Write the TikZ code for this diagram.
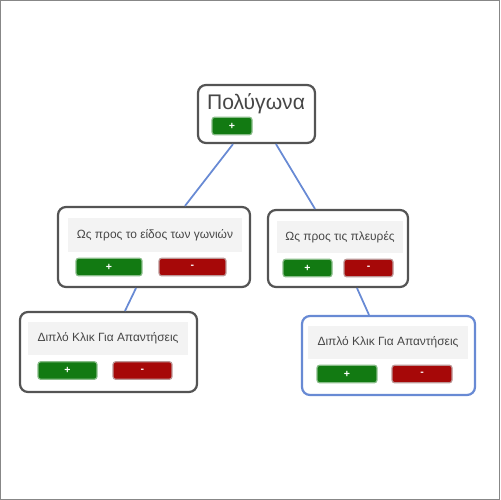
\documentclass[tikz,border=0pt]{standalone}
\usepackage{fontspec}
\setmainfont{Liberation Sans}
\definecolor{boxline}{RGB}{84,84,84}
\definecolor{linkblue}{RGB}{104,138,212}
\definecolor{panelbg}{RGB}{243,243,243}
\definecolor{labeltext}{RGB}{70,70,70}
\definecolor{okgreen}{RGB}{18,122,18}
\definecolor{nored}{RGB}{166,8,8}
\usetikzlibrary{calc}

\begin{document}
\begin{tikzpicture}[x=0.02cm,y=-0.02cm,
    card/.style={draw=boxline,line width=1.25pt,rounded corners=4.5pt,fill=white,inner sep=0pt},
    panel/.style={fill=panelbg,text=labeltext,inner sep=0pt,font=\fontsize{6.8}{8}\selectfont},
    btn/.style={line width=0.7pt,rounded corners=1.5pt,inner sep=0pt,minimum height=0.35cm,
      text=white,font=\fontsize{6}{6}\selectfont\bfseries},
    addbtn/.style={btn,fill=okgreen,draw=okgreen!50!white},
    delbtn/.style={btn,fill=nored,draw=nored!40!gray!60!white},
    link/.style={linkblue,line width=1pt}]
        \useasboundingbox (0,0) rectangle (500,500);
        \draw[boxline!70,line width=0.6pt] (0.5,0.5) rectangle (499.5,499.5);
        % top of the tree
        \node[card,minimum width=2.34cm,minimum height=1.16cm] (root) at (256.5,114) {};
        \node[text=labeltext,font=\fontsize{12}{14}\selectfont] (rootTxt) at (256,103.5) {Πολύγωνα};
        \node[addbtn,minimum width=0.8cm] (rootAdd) at (232,126) {+};
        % second row
        \node[card,minimum width=3.84cm,minimum height=1.6cm] (angles) at (154,247) {};
        \node[panel,minimum width=3.48cm,minimum height=0.68cm] (anglesTxt) at (155,235) {Ως προς το είδος των γωνιών};
        \node[addbtn,minimum width=1.32cm] (anglesAdd) at (109,267) {+};
        \node[delbtn,minimum width=1.34cm] (anglesDel) at (192.5,267) {-};
        \node[card,minimum width=2.8cm,minimum height=1.54cm] (sides) at (338,248.5) {};
        \node[panel,minimum width=2.54cm,minimum height=0.64cm] (sidesTxt) at (340,237) {Ως προς τις πλευρές};
        \node[addbtn,minimum width=0.98cm] (sidesAdd) at (307.5,268) {+};
        \node[delbtn,minimum width=0.98cm] (sidesDel) at (368.5,268) {-};
        % answers
        \node[card,minimum width=3.54cm,minimum height=1.6cm] (ansL) at (108.5,352) {};
        \node[panel,minimum width=3.2cm,minimum height=0.66cm] (ansLTxt) at (108,338.5) {Διπλό Κλικ Για Απαντήσεις};
        \node[addbtn,minimum width=1.18cm] (ansLAdd) at (67.5,370.5) {+};
        \node[delbtn,minimum width=1.18cm] (ansLDel) at (142.5,370.5) {-};
        \node[card,draw=linkblue,minimum width=3.46cm,minimum height=1.58cm] (ansR) at (388.5,355.5) {};
        \node[panel,minimum width=3.2cm,minimum height=0.66cm] (ansRTxt) at (388,342.5) {Διπλό Κλικ Για Απαντήσεις};
        \node[addbtn,minimum width=1.2cm] (ansRAdd) at (347,374) {+};
        \node[delbtn,minimum width=1.2cm] (ansRDel) at (422,374) {-};
        \draw[link] ([xshift=-0.47cm]root.south) -- ([xshift=0.62cm]angles.north);
        \draw[link] ([xshift=0.39cm]root.south) -- ([xshift=-0.46cm]sides.north);
        \draw[link] ([xshift=-0.36cm]angles.south) -- ([xshift=0.33cm]ansL.north);
        \draw[link] ([xshift=0.38cm]sides.south) -- ([xshift=-0.39cm]ansR.north);
      \end{tikzpicture}
\end{document}
